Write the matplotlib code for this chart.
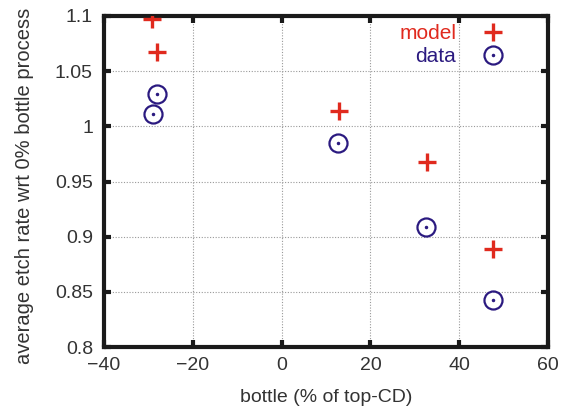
import matplotlib
matplotlib.use("Agg")
import matplotlib.pyplot as plt
from matplotlib.legend_handler import HandlerTuple

plt.rcParams['font.family'] = ['Liberation Sans', 'DejaVu Sans']

model_x = [-29.2, -28.1, 12.9, 32.7, 47.6]
model_y = [1.097, 1.0675, 1.0136, 0.9674, 0.889]
data_x = [-28.0, -29.0, 12.7, 32.5, 47.5]
data_y = [1.029, 1.011, 0.985, 0.909, 0.843]

xticks = [-40, -20, 0, 20, 40, 60]
yticks = [0.8, 0.85, 0.9, 0.95, 1.0, 1.05, 1.1]
yticklabels = ['0.8', '0.85', '0.9', '0.95', '1', '1.05', '1.1']

red = '#e02a1e'
blue = '#2b1a80'
txt = '#333333'

W, H = 568, 413
fig = plt.figure(figsize=(W / 100, H / 100), dpi=100)
ax = fig.add_axes([104 / W, 1 - 347 / H, (548 - 104) / W, (347 - 16) / H])

m, = ax.plot(model_x, model_y, linestyle='none', marker='+', markersize=13.5,
             markeredgewidth=2.4, color=red, zorder=3)
c, = ax.plot(data_x, data_y, linestyle='none', marker='o', markersize=13,
             markerfacecolor='none', markeredgewidth=1.6, markeredgecolor=blue, zorder=3)
d, = ax.plot(data_x, data_y, linestyle='none', marker='o', markersize=1.5,
             color=blue, zorder=4)

ax.set_xlim(-40, 60)
ax.set_ylim(0.8, 1.1)
ax.set_xticks(xticks)
ax.set_yticks(yticks)
ax.set_yticklabels(yticklabels)
ax.grid(True, color='#999999', linestyle=(0, (1, 1.5)), linewidth=0.8)
ax.set_axisbelow(True)

for s in ax.spines.values():
    s.set_linewidth(3)
    s.set_color('#1a1a1a')
ax.tick_params(direction='in', length=5, width=3, color='#1a1a1a',
               labelsize=14, labelcolor=txt, top=True, right=True)
ax.tick_params(axis='x', pad=7)
ax.tick_params(axis='y', pad=8)

ax.set_xlabel('bottle (% of top-CD)', fontsize=14, color=txt)
ax.xaxis.set_label_coords(0.5, -(398 - 347) / (347 - 16), transform=ax.transAxes)
ax.xaxis.label.set_va('center')
ax.set_ylabel('average etch rate wrt 0% bottle process', fontsize=14.5, color=txt)
ax.yaxis.set_label_coords(-(104 - 25) / (548 - 104), (347 - 186) / (347 - 16))
ax.yaxis.label.set_va('center')

leg = ax.legend([m, (c, d)], ['model', 'data'], loc='upper right',
                bbox_to_anchor=(503 / W, 1 - 24 / H), bbox_transform=fig.transFigure,
                markerfirst=False, frameon=False, fontsize=15,
                handler_map={tuple: HandlerTuple(ndivide=1)},
                labelcolor=[red, blue], handlelength=0.95, handletextpad=1.3,
                borderpad=0, borderaxespad=0, labelspacing=0.2)

fig.savefig('out.png', dpi=100)
